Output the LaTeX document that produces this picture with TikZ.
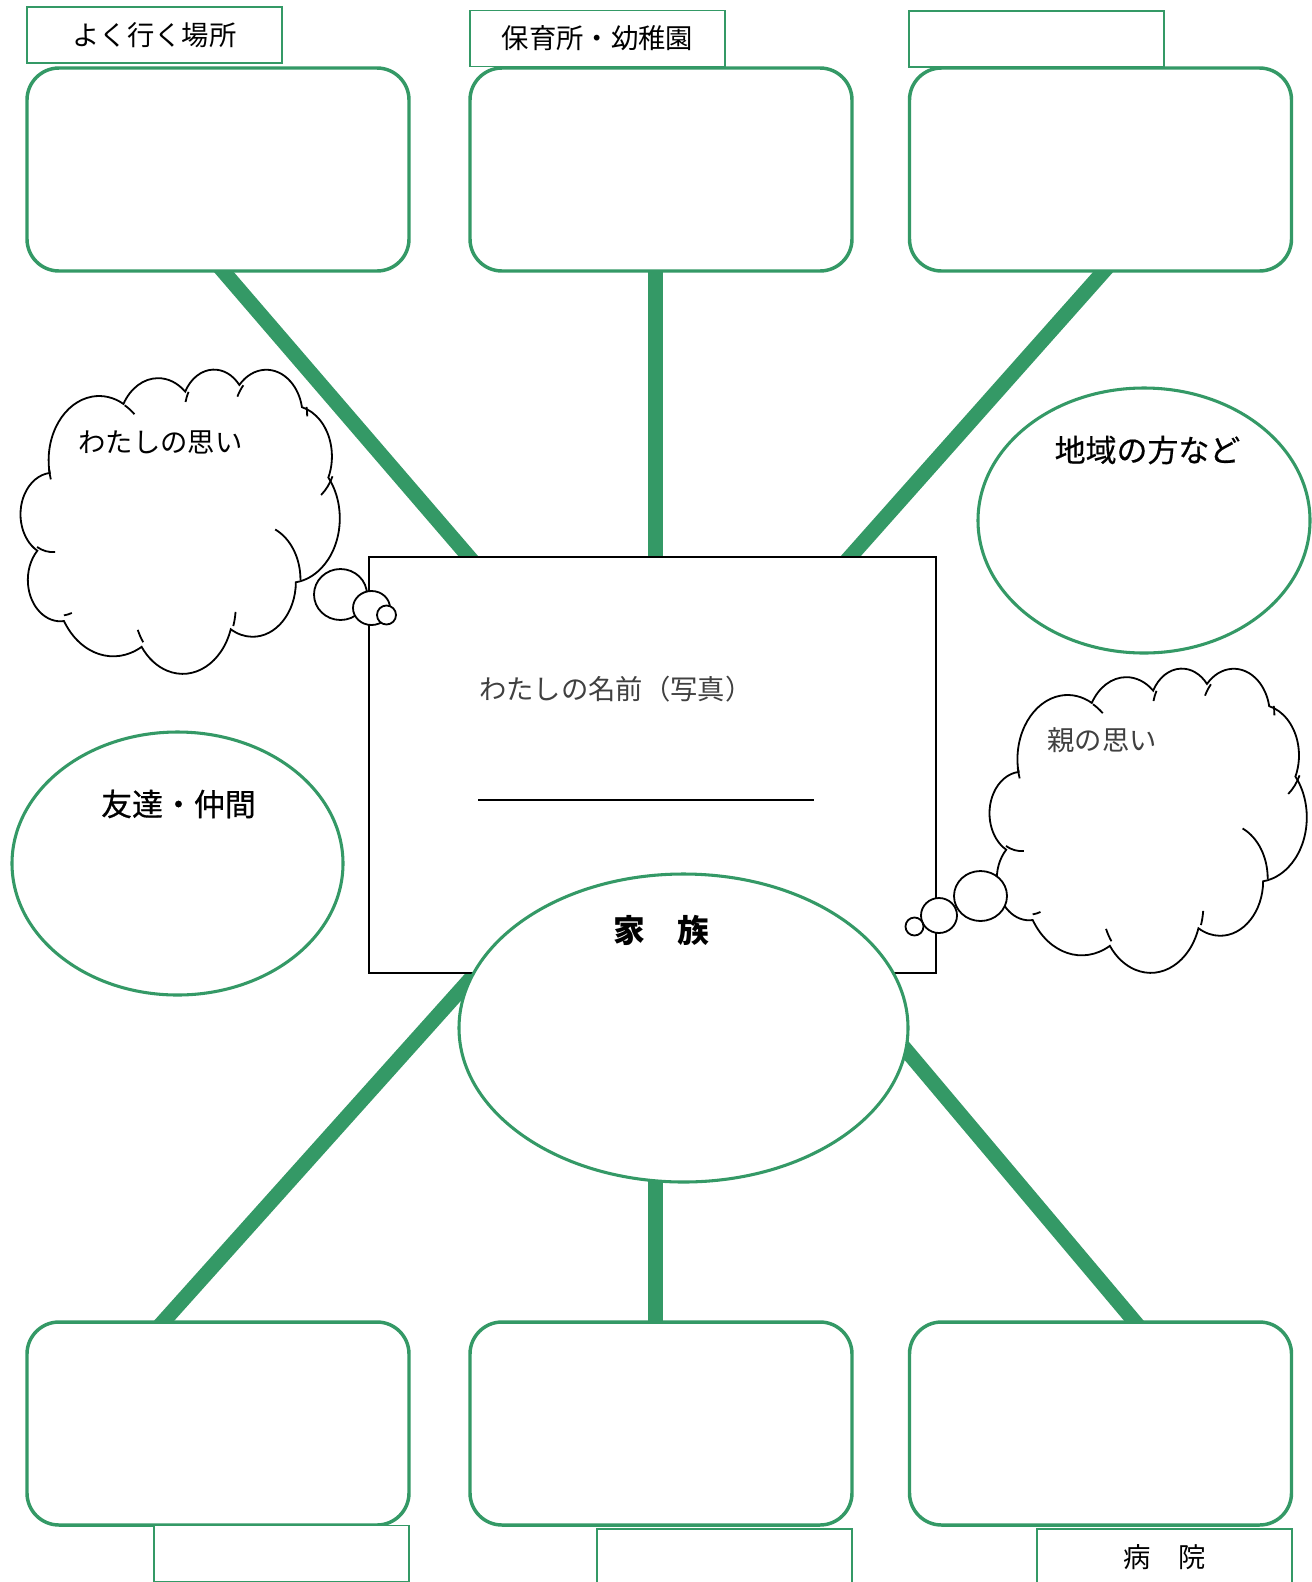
\documentclass[tikz,border=0pt]{standalone}
\usepackage{fontspec}
\setmainfont{Noto Sans CJK JP}
\newfontfamily\jpmed{Noto Sans CJK JP}[FakeBold=0.5]
\usetikzlibrary{shapes.geometric}
\definecolor{grn}{RGB}{52,153,102}
\definecolor{txtgray}{RGB}{64,64,64}
\tikzset{
 bigbox/.style={draw=grn, line width=2.6pt, rounded corners=24pt, fill=white, minimum width=286.5pt, minimum height=152.25pt, inner sep=0pt},
 lblbox/.style={draw=grn, line width=1.1pt, fill=white, minimum width=191.25pt, minimum height=42pt, inner sep=0pt, font=\fontsize{20.5pt}{24pt}\selectfont},
 ell/.style={ellipse, draw=grn, line width=2.3pt, fill=white, inner sep=0pt},
 conn/.style={draw=grn, line width=11.25pt},
 cloudln/.style={draw=black, line width=1.35pt},
 bubble/.style={ellipse, draw=black, line width=1.35pt, fill=white, inner sep=0pt},
 lbl/.style={font=\fontsize{20.5pt}{24pt}\selectfont, inner sep=0pt},
 biglbl/.style={font=\jpmed\fontsize{23.2pt}{27pt}\selectfont, inner sep=0pt},
 boldlbl/.style={font=\bfseries\fontsize{23.8pt}{28pt}\selectfont, inner sep=0pt},
}
\newcommand\mycloud[4]{%
\begin{scope}[shift={(#1,#2)}]
\begin{scope}[x=#3, y=#4]
\draw[cloudln, fill=white] (390,1437)
 arc[x radius=675.3, y radius=919.0, start angle=-188.25, delta angle=127.04]
 arc[x radius=533.3, y radius=726.7, start angle=-150.50, delta angle=103.23]
 arc[x radius=436.5, y radius=594.5, start angle=-152.00, delta angle=112.90]
 arc[x radius=485.7, y radius=659.5, start angle=-137.89, delta angle=127.02]
 arc[x radius=533.3, y radius=727.3, start angle=-75.67, delta angle=100.24]
 arc[x radius=677.5, y radius=922.0, start angle=-39.29, delta angle=121.65]
 arc[x radius=578.5, y radius=786.7, start angle=0.49, delta angle=119.87]
 arc[x radius=675.2, y radius=921.5, start angle=17.89, delta angle=126.63]
 arc[x radius=772.0, y radius=1054.3, start angle=60.58, delta angle=88.01]
 arc[x radius=436.0, y radius=591.8, start angle=83.72, delta angle=141.19]
 arc[x radius=434.5, y radius=594.5, start angle=118.78, delta angle=145.69]
 -- cycle;
\draw[cloudln]
 (469.3,2617.7) arc[x radius=434.5, y radius=594.5, start angle=85.82, delta angle=32.96]
 (692.8,3489.9) arc[x radius=436.0, y radius=591.8, start angle=69.47, delta angle=14.25]
 (1647.8,3909.0) arc[x radius=675.2, y radius=921.5, start angle=144.52, delta angle=12.67]
 (2882.7,3475.1) arc[x radius=675.2, y radius=921.5, start angle=5.05, delta angle=12.84]
 (3412.9,2295.4) arc[x radius=578.5, y radius=786.7, start angle=-65.44, delta angle=65.93]
 (4179.8,1535.4) arc[x radius=533.3, y radius=727.3, start angle=24.57, delta angle=26.87]
 (3832.4,542.6) arc[x radius=485.7, y radius=659.5, start angle=-10.87, delta angle=11.75]
 (2907.8,395.2) arc[x radius=485.7, y radius=659.5, start angle=-154.91, delta angle=17.02]
 (2214.1,472.0) arc[x radius=436.5, y radius=594.5, start angle=-166.94, delta angle=14.94]
 (1400.0,519.2) arc[x radius=675.3, y radius=919.0, start angle=-61.21, delta angle=13.67]
 (412.7,1578.9) arc[x radius=675.3, y radius=919.0, start angle=162.15, delta angle=9.60];
\end{scope}
\end{scope}}
\begin{document}
\begin{tikzpicture}[x=0.75pt,y=-0.75pt]
\useasboundingbox (0,0) rectangle (1312,1582);
\fill[white] (0,0) rectangle (1312,1582);
% connector end points
\coordinate (tl1) at (198.4,242.4); \coordinate (tl2) at (493.6,585.6);
\coordinate (tm1) at (655,250);     \coordinate (tm2) at (655,585);
\coordinate (tr1) at (1129.4,242.4); \coordinate (tr2) at (824.6,585.6);
\coordinate (bl1) at (132.8,1355.7); \coordinate (bl2) at (495.2,951.3);
\coordinate (bm1) at (655,1350);    \coordinate (bm2) at (655,1150);
\coordinate (br1) at (1157.9,1349.2); \coordinate (br2) at (883.1,1022.8);
\draw[conn] (tl1) -- (tl2);
\draw[conn] (tm1) -- (tm2);
\draw[conn] (tr1) -- (tr2);
\draw[conn] (bl1) -- (bl2);
\draw[conn] (bm1) -- (bm2);
\draw[conn] (br1) -- (br2);
% boxes
\node[bigbox] (boxTL) at (218,169.5) {};
\node[bigbox] (boxTM) at (661,169.5) {};
\node[bigbox] (boxTR) at (1100.5,169.5) {};
\node[bigbox] (boxBL) at (218,1423.5) {};
\node[bigbox] (boxBM) at (661,1423.5) {};
\node[bigbox] (boxBR) at (1100.5,1423.5) {};
% label boxes
\node[lblbox] (lblTL) at (154.5,35) {よく行く場所};
\node[lblbox] (lblTM) at (597.5,38.5) {保育所・幼稚園};
\node[lblbox] (lblTR) at (1036.5,39) {};
\node[lblbox] (lblBL) at (281.5,1553.5) {};
\node[lblbox] (lblBM) at (724.5,1557) {};
\node[lblbox] (lblBR) at (1164.5,1557) {病　院};
% photo frame
\node[draw=black, line width=1.3pt, fill=white, minimum width=425.25pt, minimum height=312pt, inner sep=0pt] (photo) at (652.5,765) {};
\node[lbl, text=txtgray, anchor=west] (nametxt) at (479,689.5) {わたしの名前（写真）};
\coordinate (nl1) at (478,800); \coordinate (nl2) at (814,800);
\draw[line width=1.3pt] (nl1) -- (nl2);
% ellipses
\node[ell, minimum width=249pt, minimum height=198.75pt] (area) at (1144,520.5) {};
\node[biglbl] (areatxt) at (1147.5,450) {地域の方など};
\node[ell, minimum width=248.25pt, minimum height=197.25pt] (friends) at (177.5,863.5) {};
\node[biglbl] (friendstxt) at (178.5,804) {友達・仲間};
\node[ell, minimum width=336.75pt, minimum height=231pt] (family) at (683.5,1028) {};
\node[boldlbl] (familytxt) at (661.5,930) {家　族};
% clouds
\mycloud{20}{369}{0.056076pt}{-0.052431pt}
\node[lbl] (mytxt) at (160.5,442.5) {わたしの思い};
\node[bubble, minimum width=39.75pt, minimum height=38.25pt] (lb1) at (340.5,594.5) {};
\node[bubble, minimum width=27.75pt, minimum height=25.5pt] (lb2) at (371.5,608) {};
\node[bubble, minimum width=14.25pt, minimum height=14.25pt] (lb3) at (386.5,615) {};
\mycloud{989}{668}{0.055729pt}{-0.052431pt}
\node[lbl, text=txtgray] (partxt) at (1102,740.5) {親の思い};
\node[bubble, minimum width=39.75pt, minimum height=37.5pt] (rb1) at (980.5,896) {};
\node[bubble, minimum width=27pt, minimum height=26.25pt] (rb2) at (939,915.5) {};
\node[bubble, minimum width=13.5pt, minimum height=13.5pt] (rb3) at (914.5,926.5) {};
\end{tikzpicture}
\end{document}
